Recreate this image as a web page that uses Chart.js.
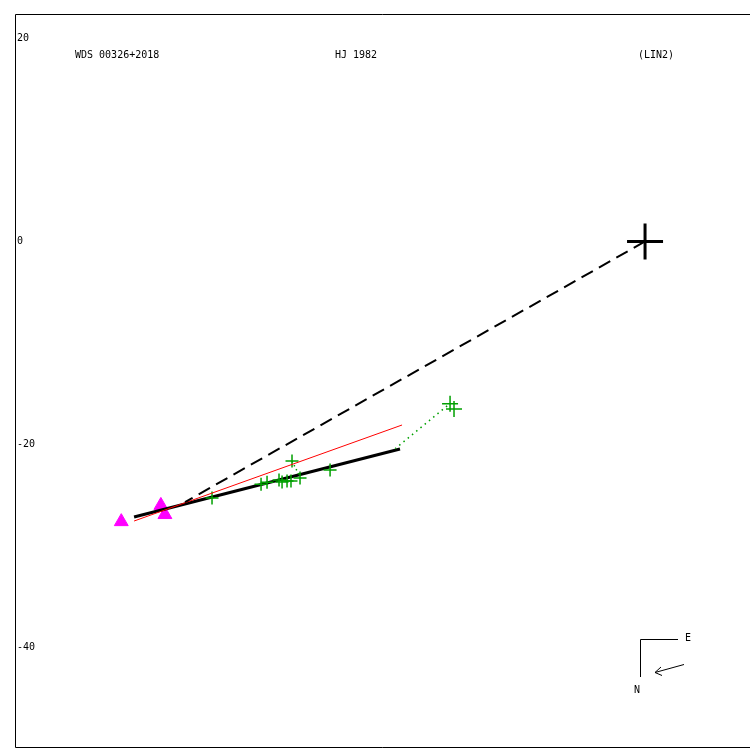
<!DOCTYPE html>
<html>
<head>
<meta charset="utf-8">
<script src="https://cdn.jsdelivr.net/npm/chart.js@4/dist/chart.umd.min.js"></script>
<style>
  html, body { margin: 0; padding: 0; background: #fff; }
  #wrap { width: 750px; height: 750px; }
</style>
</head>
<body>
<div id="wrap"><canvas id="orbit" width="750" height="750"></canvas></div>
<script>
(function () {
  'use strict';

  // axis ranges (arcsec-ish units) and tick labels
  var xRange = [-62.07, 10.34];
  var yRange = [-49.9, 22.41];
  var yTickVals = [20, 0, -20, -40];

  // primary star
  var primary = [{ x: 0, y: 0 }];

  // linear fit (LIN2) and the other fit
  var fitLine = [{ x: -50.34, y: -27.14 }, { x: -24.14, y: -20.44 }];
  var redLine = [{ x: -50.34, y: -27.54 }, { x: -23.94, y: -18.08 }];
  var nodeLine = [{ x: 0, y: 0 }, { x: -45.32, y: -25.67 }];

  // micrometer / visual measures
  var obsPts = [
    { x: -42.66, y: -25.27 }, { x: -37.83, y: -23.92 }, { x: -37.24, y: -23.73 },
    { x: -36.06, y: -23.50 }, { x: -35.76, y: -23.69 }, { x: -35.27, y: -23.60 },
    { x: -34.88, y: -23.60 }, { x: -34.78, y: -21.63 }, { x: -33.99, y: -23.30 },
    { x: -31.03, y: -22.51 }
  ];
  var obsLatePts = [{ x: -19.21, y: -15.98 }, { x: -18.82, y: -16.50 }];

  // O-C residual segments
  var ocA = [{ x: -34.78, y: -21.63 }, { x: -34.09, y: -23.00 }];
  var ocB = [{ x: -19.5, y: -16.2 }, { x: -24.6, y: -20.4 }];

  // first measures (triangles)
  var firstPts = [{ x: -51.6, y: -27.6 }, { x: -47.7, y: -26.0 }, { x: -47.3, y: -26.9 }];

  var green = '#00a000';

  Chart.defaults.font.family = 'DejaVu Sans Mono';
  Chart.defaults.font.size = 10;
  Chart.defaults.color = '#000';

  // frame, titles, compass
  var decor = {
    id: 'decor',
    beforeDatasetsDraw: function (chart) {
      var c = chart.ctx, a = chart.chartArea;
      c.save();
      c.strokeStyle = '#000';
      c.lineWidth = 1;
      c.beginPath();
      c.moveTo(a.right, a.top + 0.5);
      c.lineTo(a.left + 0.5, a.top + 0.5);
      c.lineTo(a.left + 0.5, a.bottom - 0.5);
      c.lineTo(a.right, a.bottom - 0.5);
      c.stroke();
      c.restore();
    },
    afterDraw: function (chart) {
      var c = chart.ctx;
      c.save();
      c.fillStyle = '#000';
      c.font = '10px "DejaVu Sans Mono"';
      c.textBaseline = 'middle';
      c.fillText('WDS 00326+2018', 75, 55);
      c.fillText('HJ 1982', 335, 55);
      c.fillText('(LIN2)', 638, 55);

      // compass
      c.strokeStyle = '#000';
      c.lineWidth = 1;
      c.beginPath();
      c.moveTo(678, 639.5);
      c.lineTo(640.5, 639.5);
      c.lineTo(640.5, 677);
      c.stroke();
      c.fillText('E', 685, 638);
      c.fillText('N', 634, 690);
      c.beginPath();
      c.moveTo(684, 664.5);
      c.lineTo(655, 672.5);
      c.moveTo(655, 672.5);
      c.lineTo(661, 667);
      c.moveTo(655, 672.5);
      c.lineTo(662, 675.5);
      c.stroke();
      c.restore();
    }
  };

  function seg(data, color, width, dash) {
    return {
      data: data,
      showLine: true,
      borderColor: color,
      borderWidth: width,
      borderDash: dash || [],
      pointRadius: 0,
      fill: false
    };
  }

  function pts(data, style, color, radius, width, fillColor) {
    return {
      data: data,
      showLine: false,
      pointStyle: style,
      pointRadius: radius,
      pointBorderColor: color,
      pointBackgroundColor: fillColor || color,
      pointBorderWidth: width
    };
  }

  new Chart(document.getElementById('orbit').getContext('2d'), {
    type: 'scatter',
    data: {
      datasets: [
        seg(ocA, green, 1.5, [1.5, 3]),
        seg(ocB, green, 1.5, [1.5, 4]),
        seg(nodeLine, '#000', 2, [13, 7]),
        seg(redLine, '#ff0000', 1),
        pts(obsPts, 'cross', green, 6.5, 1.5),
        pts(obsLatePts, 'cross', green, 8, 1.5),
        seg(fitLine, '#000', 3),
        pts(firstPts, 'triangle', '#ff00ff', 8, 1, '#ff00ff'),
        pts(primary, 'cross', '#000', 18, 3)
      ]
    },
    options: {
      responsive: false,
      animation: false,
      layout: { autoPadding: false, padding: { left: 15, top: 14, right: 0, bottom: 2 } },
      plugins: { legend: { display: false }, tooltip: { enabled: false } },
      scales: {
        x: {
          type: 'linear',
          min: xRange[0],
          max: xRange[1],
          display: false
        },
        y: {
          type: 'linear',
          min: yRange[0],
          max: yRange[1],
          grid: { display: false, drawTicks: false },
          border: { display: false },
          ticks: { mirror: true, padding: 2, color: '#000', font: { size: 10 } },
          afterBuildTicks: function (scale) {
            scale.ticks = yTickVals.map(function (v) { return { value: v }; });
          },
          afterFit: function (scale) {
            scale.width = 0;
            scale.paddingTop = 0;
            scale.paddingBottom = 0;
            scale.paddingLeft = 0;
            scale.paddingRight = 0;
          }
        }
      }
    },
    plugins: [decor]
  });
})();
</script>
</body>
</html>
